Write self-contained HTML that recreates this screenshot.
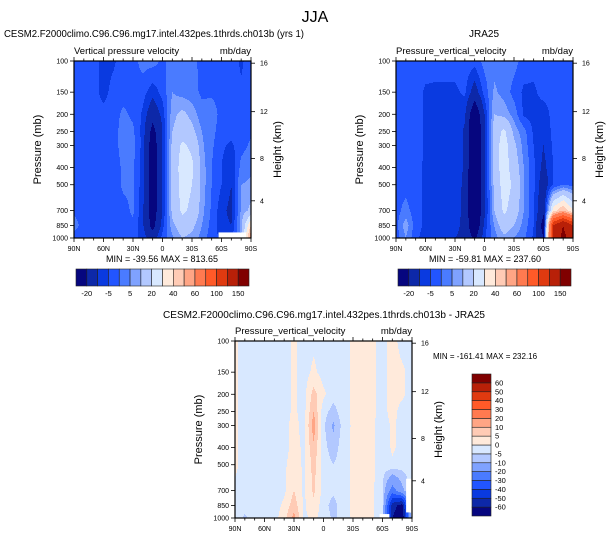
<!DOCTYPE html>
<html><head><meta charset="utf-8">
<style>
html,body{margin:0;padding:0;background:#fff;}
svg{display:block;font-family:"Liberation Sans",Arial,sans-serif;}
</style></head>
<body>
<svg id="fig" width="609" height="538" viewBox="0 0 609 538" xmlns="http://www.w3.org/2000/svg">
<rect x="0" y="0" width="609" height="538" fill="#fff"/>
<text x="315" y="22" font-size="16" text-anchor="middle">JJA</text>
</svg>
<script>
// ---- data ----
const lats = [90,80,70,60,50,40,30,20,10,0,-10,-20,-30,-40,-50,-60,-70,-80,-90];
const plevs = [100,150,200,250,300,400,500,700,850,1000];
const latTickLabels = ['90N','60N','30N','0','30S','60S','90S'];
const latTickValues = [90,60,30,0,-30,-60,-90];
const kmTicks = [4,8,12,16];
const palette = ['#06067f','#0d28a8','#0a3ae0','#2255ff','#4a7bff','#7fa2ff','#b2c8ff','#d8e8ff','#ffeadb','#ffcbb5','#ffa585','#ff7a50','#ff5a28','#e03a10','#b82008','#800000'];
const levelsAbs = [-20,-10,-5,0,5,10,20,30,40,50,60,80,100,120,150];
const levelsAbsLabels = ['-20','-5','5','20','40','60','100','150'];
const levelsDiff = [-60,-50,-40,-30,-20,-10,-5,0,5,10,20,30,40,50,60];
const levelsDiffLabels = ['-60','-50','-40','-30','-20','-10','-5','0','5','10','20','30','40','50','60'];

const cesm = [
 [-2,-2,-3,-7,-6,-2,-2,2,2,-1,2,2,1,-1,-2,-3,-2,-6,-2],
 [-2,-2,-3,-7,-3,-2,-1,-3,-8,-3,5,3,2,-1,-1,-2,-2,-4,-1],
 [-2,-2,-2,-3,-2,1,-1,-6,-16,-8,8,12,8,2,3,-2,-3,-2,-1],
 [-2,-3,-2,-2,-2,2,1,-7,-24,-10,10,15,12,5,2,-3,-3,-2,-1],
 [-2,-3,-2,-2,-2,2,2,-7,-27,-10,12,22,18,6,1,-4,-6,-2,1],
 [-2,-3,-1,-2,-3,1,1,-8,-27,-10,12,25,22,8,0,-5,-10,2,4],
 [-3,-3,-2,-2,-3,1,1,-8,-27,-10,12,24,20,8,0,-5,-10,5,6],
 [-1,-2,-2,-3,-3,-2,1,-9,-27,-10,12,22,18,7,-1,-8,-12,6,12],
 [2,-2,-3,-3,-3,-3,-1,-9,-24,-7,8,15,12,5,-2,-8,-10,8,40],
 [-2,-3,-4,-3,-3,-4,-3,-7,-14,-3,4,10,8,3,-3,-6,-6,4,60]
];
const jra = [
 [-2,-2,-2,-2,-3,-3,-3,-2,-3,2,3,3,2,-2,-3,-3,-3,-3,-3],
 [-2,-2,-2,-6,-6,-6,-6,-4,-14,-3,6,3,-2,-6,-6,-3,-3,-3,-3],
 [-2,-2,-2,-6,-7,-6,-6,-9,-30,-10,10,8,3,-6,-7,-8,-3,-3,-3],
 [-2,-2,-2,-6,-6,-6,-6,-11,-35,-12,15,22,8,2,-6,-8,-4,-2,-2],
 [-2,-2,-2,-6,-6,-6,-6,-11,-35,-12,15,25,12,3,-5,-10,-4,-2,-2],
 [-2,-2,-3,-6,-6,-7,-6,-11,-35,-12,15,25,15,5,-4,-12,-5,-2,-2],
 [-2,-2,-3,-6,-8,-7,-6,-12,-35,-12,12,25,18,5,-4,-15,-5,0,-2],
 [-2,2,-3,-6,-8,-8,-7,-12,-35,-12,10,22,15,5,-4,-18,35,50,30],
 [-2,8,-3,-6,-8,-8,-8,-12,-32,-8,5,15,10,3,-5,-25,120,150,120],
 [-3,5,-4,-7,-8,-9,-10,-12,-22,-6,3,8,5,1,-6,-20,120,160,130]
];
const diff = [
 [1,-2,-2,-2,-2,-2,1,-2,-1,-2,-2,-2,1,2,1,-2,2,-2,-2],
 [1,-2,-2,-2,-2,-2,1,-2,1,-2,-2,-2,1,2,1,-2,2,1,-2],
 [1,-2,-2,-2,-2,-2,1,-2,7,1,-3,-2,1,2,1,-2,2,1,-2],
 [1,-2,-2,-2,-2,-2,1,-2,10,-3,-7,-2,1,2,1,-2,2,-2,-2],
 [1,-2,-2,-2,-2,-2,2,-2,13,-4,-11,-3,1,2,1,-3,1,-2,-2],
 [1,-2,-2,-2,-2,-2,2,-1,9,-3,-8,-2,1,2,1,-4,1,-2,-2],
 [1,-2,-2,-2,-2,-1,3,-1,7,-2,-5,-2,1,2,1,-3,-1,-3,-2],
 [-1,-2,-2,-3,-2,-1,5,-1,6,-2,-4,-2,1,2,1,-5,-25,-12,-3],
 [-2,-3,-2,-3,-2,1,8,-1,4,-3,-7,-2,1,2,1,-5,-55,-65,5],
 [-2,-6,-2,-2,-2,3,12,-1,1,-2,-6,-3,1,2,1,-5,-60,-70,-3]
];
// missing-data regions [latNorth, latSouth, pTop, pBottom]
const missingCesm = [[-57,-85,930,1000]];
const missingDiff = [[-57,-67,950,1000],[-84,-90,600,930]];

const NS = 'http://www.w3.org/2000/svg';
const svg = document.getElementById('fig');
function el(tag, attrs, parent){
  const e = document.createElementNS(NS, tag);
  for (const k in attrs) e.setAttribute(k, attrs[k]);
  (parent||svg).appendChild(e);
  return e;
}
function kmToP(z){
  const m = z*1000;
  if (m <= 11000) return 1013.25*Math.pow(1-2.25577e-5*m, 5.25588);
  return 226.32*Math.exp(-(m-11000)/6341.6);
}
function colorIdx(v, levels){
  let i = 0;
  while (i < levels.length && v >= levels[i]) i++;
  return i;
}
function valueAt(data, lat, p){
  let i = 0;
  while (i < lats.length-2 && lat < lats[i+1]) i++;
  const tx = (lats[i]-lat)/(lats[i]-lats[i+1]);
  const lp = Math.log(p);
  let j = 0;
  while (j < plevs.length-2 && p > plevs[j+1]) j++;
  const ty = (lp-Math.log(plevs[j]))/(Math.log(plevs[j+1])-Math.log(plevs[j]));
  const a = data[j][i], b = data[j][i+1], c = data[j+1][i], d = data[j+1][i+1];
  return (a*(1-tx)+b*tx)*(1-ty) + (c*(1-tx)+d*tx)*ty;
}

function panel(o){
  const g = el('g', {});
  
  
  const xS = lat => o.x + (90-lat)/180*o.w;
  const yS = p => o.y + Math.log10(p/100)*o.h;
  const cg = el('g', {}, g);
  
  
  const step = 1;
  for (let py = 0; py < o.h; py += step){
    const p = 100*Math.pow(10, (py+step/2)/o.h);
    let runStart = 0, runIdx = -1;
    const cols = Math.ceil(o.w/step);
    for (let c = 0; c <= cols; c++){
      let idx = -2;
      if (c < cols){
        const px = c*step + step/2;
        const lat = 90 - px/o.w*180;
        idx = colorIdx(valueAt(o.data, lat, p), o.levels);
      }
      if (idx !== runIdx){
        if (runIdx >= 0){
          const x0 = o.x + runStart*step;
          const x1 = Math.min(o.x + c*step, o.x+o.w);
          const r = el('rect', {x:x0, y:o.y+py, width:x1-x0+0.4, height:Math.min(step+0.4, o.h-py), fill:palette[runIdx]}, cg);
          
          
        }
        runStart = c; runIdx = idx;
      }
    }
  }
  (o.missing||[]).forEach(m => {
    const r = el('rect', {x:xS(m[0]), y:yS(m[2]), width:xS(m[1])-xS(m[0]), height:yS(m[3])-yS(m[2]), fill:'#fff'}, g);
    
    
  });
  const frame = el('rect', {x:o.x, y:o.y, width:o.w, height:o.h, fill:'none', stroke:'#000', 'stroke-width':1.2}, g);
  
  
  for (let lat = 90; lat >= -90; lat -= 10){
    const major = lat % 30 === 0;
    const L = major ? 4 : 2.5;
    el('line', {x1:xS(lat), x2:xS(lat), y1:o.y+o.h, y2:o.y+o.h+L, stroke:'#000','stroke-width':0.8}, g);
    el('line', {x1:xS(lat), x2:xS(lat), y1:o.y, y2:o.y-L, stroke:'#000','stroke-width':0.8}, g);
  }
  latTickValues.forEach((lat,k) => {
    const t = el('text', {x:xS(lat), y:o.y+o.h+13, 'font-size':7, 'text-anchor':'middle'}, g);
    t.textContent = latTickLabels[k];
    
    
  });
  plevs.forEach(p => {
    el('line', {x1:o.x-4, x2:o.x, y1:yS(p), y2:yS(p), stroke:'#000','stroke-width':0.8}, g);
    const t = el('text', {x:o.x-6, y:yS(p)+2.5, 'font-size':7, 'text-anchor':'end'}, g);
    t.textContent = p;
    
    
  });
  kmTicks.forEach(z => {
    const yy = yS(kmToP(z));
    el('line', {x1:o.x+o.w, x2:o.x+o.w+4, y1:yy, y2:yy, stroke:'#000','stroke-width':0.8}, g);
    const t = el('text', {x:o.x+o.w+9, y:yy+2.5, 'font-size':7}, g);
    t.textContent = z;
    
    
  });
  const yl = el('text', {x:0, y:0, 'font-size':11, 'text-anchor':'middle', transform:`translate(${o.x-33},${o.y+o.h/2}) rotate(-90)`}, g);
  yl.textContent = 'Pressure (mb)';
  
  
  const yr = el('text', {x:0, y:0, 'font-size':11, 'text-anchor':'middle', transform:`translate(${o.x+o.w+30},${o.y+o.h/2}) rotate(-90)`}, g);
  yr.textContent = 'Height (km)';
  
  
  const vl = el('text', {x:o.x, y:o.y-7, 'font-size':9.5}, g);
  vl.textContent = o.varname;
  
  
  const ul = el('text', {x:o.x+o.w, y:o.y-7, 'font-size':9.5, 'text-anchor':'end'}, g);
  ul.textContent = 'mb/day';
  
  
  return {xS, yS};
}

function hColorbar(x, y, w, h, levelLabels, name){
  const g = el('g', {});
  
  
  const bw = w/palette.length;
  palette.forEach((c,i) => {
    const r = el('rect', {x:x+i*bw, y:y, width:bw, height:h, fill:c, stroke:'#222', 'stroke-width':0.6}, g);
    
    
  });
  levelLabels.forEach((lab,k) => {
    const t = el('text', {x:x+(2*k+1)*bw, y:y+h+10, 'font-size':7.5, 'text-anchor':'middle'}, g);
    t.textContent = lab;
    
    
  });
}
function vColorbar(x, y, w, h, levelLabels, name){
  const g = el('g', {});
  
  
  const bh = h/palette.length;
  palette.forEach((c,i) => {
    const r = el('rect', {x:x, y:y+h-(i+1)*bh, width:w, height:bh, fill:c, stroke:'#222', 'stroke-width':0.6}, g);
    
    
  });
  levelLabels.forEach((lab,k) => {
    const t = el('text', {x:x+w+4, y:y+h-(k+1)*bh+2.5, 'font-size':7.5}, g);
    t.textContent = lab;
    
    
  });
}
function txt(x, y, s, size, anchor, name, extra){
  const t = el('text', Object.assign({x:x, y:y, 'font-size':size, 'text-anchor':anchor||'start'}, extra||{}));
  t.textContent = s;
  
  
  return t;
}

panel({name:'cesm-panel', x:74, y:61, w:177, h:177, data:cesm, levels:levelsAbs, missing:missingCesm, varname:'Vertical pressure velocity'});
txt(4, 37, 'CESM2.F2000climo.C96.C96.mg17.intel.432pes.1thrds.ch013b (yrs 1)', 10, 'start', 'cesm-panel-title', {textLength:300, lengthAdjust:'spacingAndGlyphs'});
txt(162, 262, 'MIN = -39.56  MAX = 813.65', 9, 'middle', 'cesm-min-max');
hColorbar(76, 269, 173, 17, levelsAbsLabels, 'cesm-colorbar');

panel({name:'jra25-panel', x:396, y:61, w:177, h:177, data:jra, levels:levelsAbs, missing:[], varname:'Pressure_vertical_velocity'});
txt(484, 37, 'JRA25', 10, 'middle', 'jra25-panel-title');
txt(485, 262, 'MIN = -59.81  MAX = 237.60', 9, 'middle', 'jra25-min-max');
hColorbar(398, 269, 173, 17, levelsAbsLabels, 'jra25-colorbar');

panel({name:'difference-panel', x:235, y:341, w:177, h:177, data:diff, levels:levelsDiff, missing:missingDiff, varname:'Pressure_vertical_velocity'});
txt(324, 318, 'CESM2.F2000climo.C96.C96.mg17.intel.432pes.1thrds.ch013b - JRA25', 10, 'middle', 'difference-panel-title', {textLength:322, lengthAdjust:'spacingAndGlyphs'});
txt(433, 359, 'MIN = -161.41  MAX = 232.16', 8, 'start', 'difference-min-max');
vColorbar(472, 374, 19, 142, levelsDiffLabels, 'difference-colorbar');
</script>
</body></html>
